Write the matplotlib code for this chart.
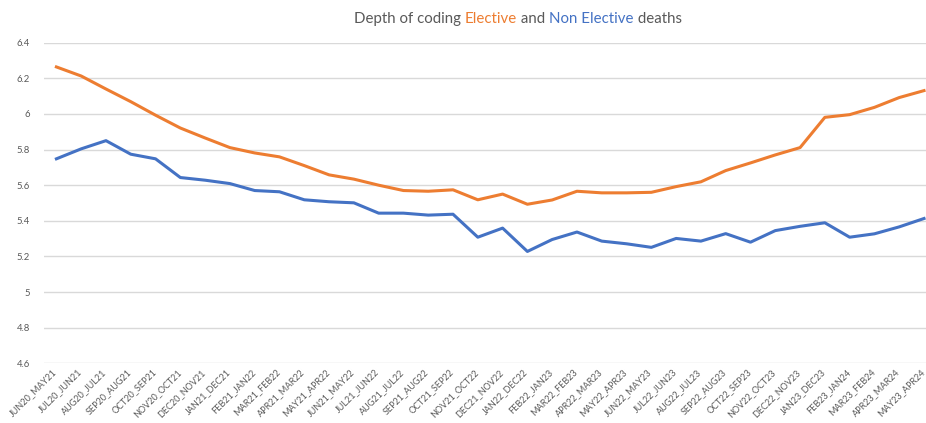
import matplotlib
matplotlib.use("Agg")
import matplotlib.pyplot as plt
from matplotlib.ticker import FixedLocator
from matplotlib.transforms import ScaledTranslation

periods = [
    "JUN20_MAY21", "JUL20_JUN21", "AUG20_JUL21", "SEP20_AUG21", "OCT20_SEP21",
    "NOV20_OCT21", "DEC20_NOV21", "JAN21_DEC21", "FEB21_JAN22", "MAR21_FEB22",
    "APR21_MAR22", "MAY21_APR22", "JUN21_MAY22", "JUL21_JUN22", "AUG21_JUL22",
    "SEP21_AUG22", "OCT21_SEP22", "NOV21_OCT22", "DEC21_NOV22", "JAN22_DEC22",
    "FEB22_JAN23", "MAR22_FEB23", "APR22_MAR23", "MAY22_APR23", "JUN22_MAY23",
    "JUL22_JUN23", "AUG22_JUL23", "SEP22_AUG23", "OCT22_SEP23", "NOV22_OCT23",
    "DEC22_NOV23", "JAN23_DEC23", "FEB23_JAN24", "MAR23_FEB24", "APR23_MAR24",
    "MAY23_APR24",
]

elective = [
    6.264, 6.213, 6.140, 6.069, 5.993, 5.921, 5.865, 5.811, 5.781, 5.759,
    5.710, 5.658, 5.634, 5.600, 5.570, 5.566, 5.574, 5.518, 5.550, 5.493,
    5.517, 5.566, 5.557, 5.557, 5.560, 5.592, 5.619, 5.682, 5.725, 5.770,
    5.811, 5.981, 5.996, 6.037, 6.092, 6.131,
]

non_elective = [
    5.748, 5.804, 5.850, 5.774, 5.748, 5.643, 5.628, 5.609, 5.570, 5.563,
    5.518, 5.507, 5.501, 5.443, 5.443, 5.432, 5.437, 5.308, 5.359, 5.228,
    5.295, 5.337, 5.286, 5.271, 5.251, 5.301, 5.286, 5.328, 5.280, 5.345,
    5.369, 5.389, 5.308, 5.327, 5.366, 5.413,
]

y_ticks = [4.6, 4.8, 5.0, 5.2, 5.4, 5.6, 5.8, 6.0, 6.2, 6.4]
y_labels = ["4.6", "4.8", "5", "5.2", "5.4", "5.6", "5.8", "6", "6.2", "6.4"]

ORANGE = "#ED7D31"
BLUE = "#4472C4"
TEXT = "#595959"
GRID = "#D9D9D9"
FONT = ["Lato", "DejaVu Sans"]

plt.rcParams["font.family"] = FONT

fig = plt.figure(figsize=(9.26, 4.23), dpi=100)
ax = fig.add_axes([44 / 926, 1 - 363.3 / 423, 1 - 44 / 926, (363.3 - 42.7) / 423])

x = list(range(len(periods)))
ax.plot(x, non_elective, color=BLUE, lw=2.2, solid_joinstyle="round", zorder=3)
ax.plot(x, elective, color=ORANGE, lw=2.2, solid_joinstyle="round", zorder=3)

ax.set_xlim(-0.5, 35.08)
ax.set_ylim(4.6, 6.4)
ax.yaxis.set_major_locator(FixedLocator(y_ticks))
ax.set_yticklabels(y_labels)
ax.set_xticks(x)
ax.set_xticklabels(periods, rotation=45, ha="right", rotation_mode="anchor")

ax.grid(axis="y", color=GRID, lw=1.0)
ax.set_axisbelow(True)
for s in ax.spines.values():
    s.set_visible(False)
ax.tick_params(axis="both", length=0, colors=TEXT)
ax.tick_params(axis="y", pad=10, labelsize=6.8)
ax.tick_params(axis="x", pad=3, labelsize=6.5)

# nudge the slanted category labels a little to the left
shift = ScaledTranslation(-4 / 100, 0, fig.dpi_scale_trans)
for lbl in ax.get_xticklabels():
    lbl.set_transform(lbl.get_transform() + shift)

# Multi-coloured title assembled from consecutive pieces
pieces = [
    ("Depth of coding ", TEXT),
    ("Elective", ORANGE),
    (" and ", TEXT),
    ("Non Elective", BLUE),
    (" deaths", TEXT),
]
renderer = fig.canvas.get_renderer()
texts = []
for s, c in pieces:
    t = fig.text(0, 0, s, color=c, fontsize=10.8, va="center", ha="left")
    texts.append(t)
widths = [t.get_window_extent(renderer).width for t in texts]
total = sum(widths)
cx = 518
y_px = 423 - 19
start = cx - total / 2
for t, w in zip(texts, widths):
    t.set_position((start / 926, y_px / 423))
    start += w

fig.savefig("out.png", dpi=100)
